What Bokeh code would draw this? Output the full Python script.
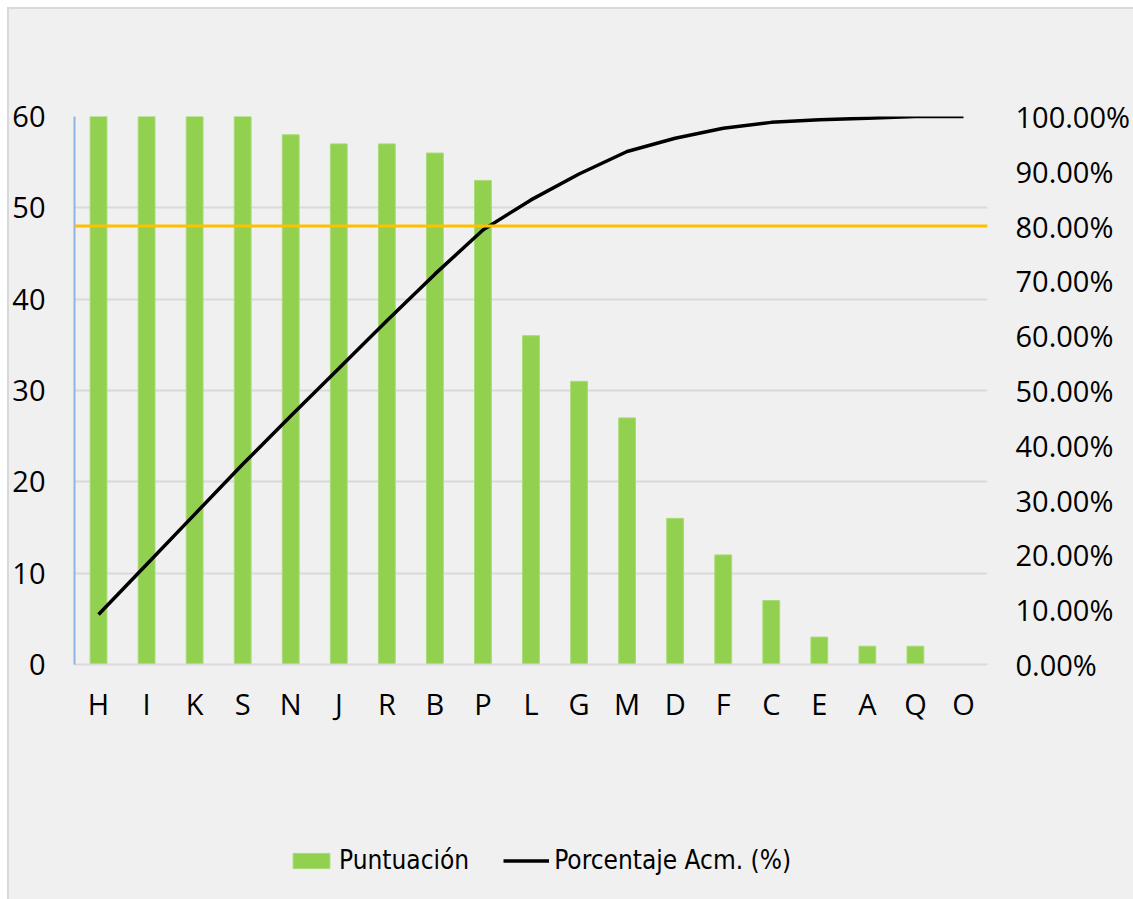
from bokeh.plotting import figure
from bokeh.layouts import column
from bokeh.models import (Range1d, LinearAxis, FixedTicker, NumeralTickFormatter,
                          Legend, LegendItem, Span)
from bokeh.embed import file_html
from bokeh.resources import INLINE

# Pareto data: score per item (sorted) and cumulative share of the total
CATEGORIES = ["H", "I", "K", "S", "N", "J", "R", "B", "P", "L",
              "G", "M", "D", "F", "C", "E", "A", "Q", "O"]
SCORES = [60, 60, 60, 60, 58, 57, 57, 56, 53, 36,
          31, 27, 16, 12, 7, 3, 2, 2, 0]
CUM_PCT = [0.0913, 0.1826, 0.2740, 0.3653, 0.4536, 0.5403, 0.6271, 0.7123, 0.7930, 0.8478,
           0.8950, 0.9361, 0.9604, 0.9787, 0.9893, 0.9939, 0.9970, 1.0, 1.0]
THRESHOLD = 0.80
LEFT_TICKS = [0, 10, 20, 30, 40, 50, 60]
RIGHT_TICKS = [0.0, 0.1, 0.2, 0.3, 0.4, 0.5, 0.6, 0.7, 0.8, 0.9, 1.0]

BG = "#f0f0f0"
GRID = "#d9d9d9"
BAR_FILL = "#92d050"
BAR_EDGE = "#a8dc76"
LINE_COLOR = "#000000"
TICK_FONT = "'Open Sans', 'Noto Sans', sans-serif"
LEGEND_FONT = "'DejaVu Sans Condensed', 'DejaVu Sans', sans-serif"

# ---- main chart -------------------------------------------------------------
p = figure(x_range=CATEGORIES, y_range=Range1d(0, 60),
           width=1124, height=790, output_backend="svg", toolbar_location=None,
           min_border_left=65, min_border_right=146, min_border_top=107, min_border_bottom=135)
p.background_fill_color = BG
p.border_fill_color = BG
p.outline_line_color = None

p.extra_y_ranges = {"pct": Range1d(0, 1)}

p.vbar(x=CATEGORIES, top=SCORES, width=0.35,
       fill_color=BAR_FILL, line_color=BAR_EDGE, line_width=1)
p.line(x=CATEGORIES, y=CUM_PCT, y_range_name="pct",
       line_color=LINE_COLOR, line_width=3.5)

# 80 % cut-off line
p.add_layout(Span(location=THRESHOLD, dimension="width", y_range_name="pct",
                  line_color="#ffc000", line_width=3))

# left axis
ly = p.yaxis[0]
ly.ticker = FixedTicker(ticks=LEFT_TICKS)
ly.axis_line_color = "#8db4e2"
ly.axis_line_width = 2
ly.major_tick_line_color = None
ly.major_tick_out = 0
ly.major_tick_in = 0
ly.minor_tick_line_color = None
ly.major_label_standoff = 29
ly.major_label_text_font = TICK_FONT
ly.major_label_text_font_size = "29px"
ly.major_label_text_color = "#000000"

# right axis (cumulative percentage)
ry = LinearAxis(y_range_name="pct", ticker=FixedTicker(ticks=RIGHT_TICKS),
                formatter=NumeralTickFormatter(format="0.00%"))
ry.axis_line_color = None
ry.major_tick_line_color = None
ry.major_tick_out = 0
ry.major_tick_in = 0
ry.minor_tick_line_color = None
ry.major_label_standoff = 28
ry.major_label_text_font = TICK_FONT
ry.major_label_text_font_size = "29px"
ry.major_label_text_color = "#000000"
p.add_layout(ry, "right")

# category axis
bx = p.xaxis[0]
bx.axis_line_color = GRID
bx.axis_line_width = 2
bx.major_tick_line_color = None
bx.major_tick_out = 0
bx.major_tick_in = 0
bx.minor_tick_line_color = None
bx.major_label_standoff = 19
bx.major_label_text_font = TICK_FONT
bx.major_label_text_font_size = "29px"
bx.major_label_text_color = "#000000"

p.xgrid.grid_line_color = None
p.ygrid.ticker = FixedTicker(ticks=LEFT_TICKS)
p.ygrid.grid_line_color = GRID
p.ygrid.grid_line_width = 2

# ---- legend strip under the chart ---------------------------------------------
lg = figure(width=1124, height=100, x_range=Range1d(0, 1), y_range=Range1d(0, 1),
            x_axis_type=None, y_axis_type=None, output_backend="svg",
            toolbar_location=None, min_border=0)
lg.background_fill_color = BG
lg.border_fill_color = BG
lg.outline_line_color = None
lg.grid.visible = False
# key swatches only: a single undefined point so nothing shows inside the strip
key_bar = lg.vbar(x=[0.5], top=[float("nan")], width=0.35,
                  fill_color=BAR_FILL, line_color=BAR_EDGE, line_width=1)
key_line = lg.line(x=[0.5], y=[float("nan")], line_color=LINE_COLOR, line_width=3.5)

legend = Legend(items=[LegendItem(label="Puntuación", renderers=[key_bar]),
                       LegendItem(label="Porcentaje Acm. (%)", renderers=[key_line])],
                orientation="horizontal", location=(214, 24))
legend.background_fill_alpha = 0
legend.border_line_color = None
legend.padding = 0
legend.margin = 0
legend.spacing = 34
legend.glyph_width = 46
legend.glyph_height = 19
legend.label_height = 19
legend.label_standoff = 5
legend.label_text_font = LEGEND_FONT
legend.label_text_font_size = "26px"
legend.label_text_color = "#000000"
lg.add_layout(legend, "center")

# the chart area sits 9px in from the page corner, with a border on its top and left sides
layout = column(p, lg, spacing=0,
                styles={"margin-left": "7px", "margin-top": "7px",
                        "border-left": "2px solid #d9d9d9", "border-top": "2px solid #d9d9d9",
                        "background-color": BG})

open("out.html", "w").write(file_html(layout, INLINE))
